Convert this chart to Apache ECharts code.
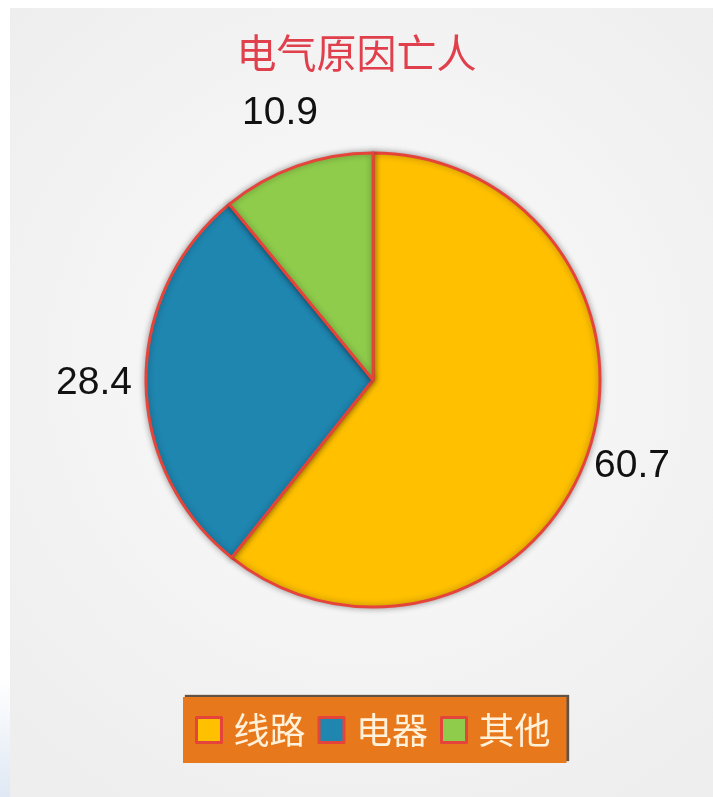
<!DOCTYPE html>
<html>
<head>
<meta charset="utf-8">
<script src="https://cdn.jsdelivr.net/npm/echarts@6/dist/echarts.min.js"></script>
<style>
html,body{margin:0;padding:0;background:#efefef;overflow:hidden;}
#main{width:713px;height:797px;}
</style>
</head>
<body>
<div id="main"></div>
<script>
var titleText = '电气原因亡人';
var categories = ['线路', '电器', '其他'];
var values = [60.7, 28.4, 10.9];
var colors = ['#FFC000', '#1F86B0', '#8FCC4C'];
var labelPos = [[632, 466], [94, 383], [280, 113]];

var chart = echarts.init(document.getElementById('main'));
var option = {
  backgroundColor: '#efefef',
  animation: false,
  graphic: [{
    type: 'rect',
    z: -10,
    shape: {x: 10, y: 8, width: 720, height: 800},
    style: {
      fill: new echarts.graphic.RadialGradient(0.5, 0.45, 0.7, [
        {offset: 0, color: '#fbfbfb'},
        {offset: 1, color: '#eeeeee'}
      ])
    }
  }, {
    type: 'rect',
    z: -9,
    shape: {x: 0, y: 0, width: 713, height: 8},
    style: {fill: '#ffffff'}
  }, {
    type: 'rect',
    z: -9,
    shape: {x: 0, y: 0, width: 10, height: 797},
    style: {
      fill: new echarts.graphic.LinearGradient(0, 0, 0, 1, [
        {offset: 0, color: '#ffffff'},
        {offset: 0.85, color: '#ffffff'},
        {offset: 1, color: '#dfe8f4'}
      ])
    }
  }],
  title: {
    text: titleText,
    left: 'center',
    top: 28,
    textStyle: {
      color: '#E0404C',
      fontSize: 40,
      fontWeight: 'normal',
      fontFamily: 'Noto Sans CJK SC'
    }
  },
  legend: {
    data: categories,
    left: 183,
    top: 697,
    orient: 'horizontal',
    itemWidth: 25,
    itemHeight: 25,
    itemGap: 12,
    icon: 'rect',
    backgroundColor: '#E8781C',
    padding: [14, 16, 14, 12],
    shadowColor: 'rgba(70,55,40,0.85)',
    shadowBlur: 1,
    shadowOffsetX: 2,
    shadowOffsetY: -2,
    itemStyle: {borderColor: '#E5443A', borderWidth: 3},
    textStyle: {
      color: '#FFF1DA',
      fontSize: 36,
      lineHeight: 38,
      padding: [0, 0, 0, 7],
      fontFamily: 'Noto Sans CJK SC'
    }
  },
  series: [{
    type: 'pie',
    center: [373, 380],
    radius: 227,
    startAngle: 90,
    clockwise: true,
    data: categories.map(function (c, i) {
      return {name: c, value: values[i], itemStyle: {color: colors[i]}};
    }),
    itemStyle: {
      borderColor: '#E5443A',
      borderWidth: 3,
      shadowBlur: 6,
      shadowColor: 'rgba(0,0,0,0.35)'
    },
    label: {
      show: true,
      position: 'outside',
      overflow: 'none',
      formatter: function (p) { return p.value.toFixed(1); },
      color: '#111111',
      fontSize: 39,
      fontFamily: 'Liberation Sans'
    },
    labelLine: {show: false},
    labelLayout: function (params) {
      var p = labelPos[params.dataIndex];
      return {x: p[0], y: p[1], align: 'center', verticalAlign: 'middle'};
    },
    emphasis: {disabled: true}
  }]
};
chart.setOption(option);
</script>
</body>
</html>
